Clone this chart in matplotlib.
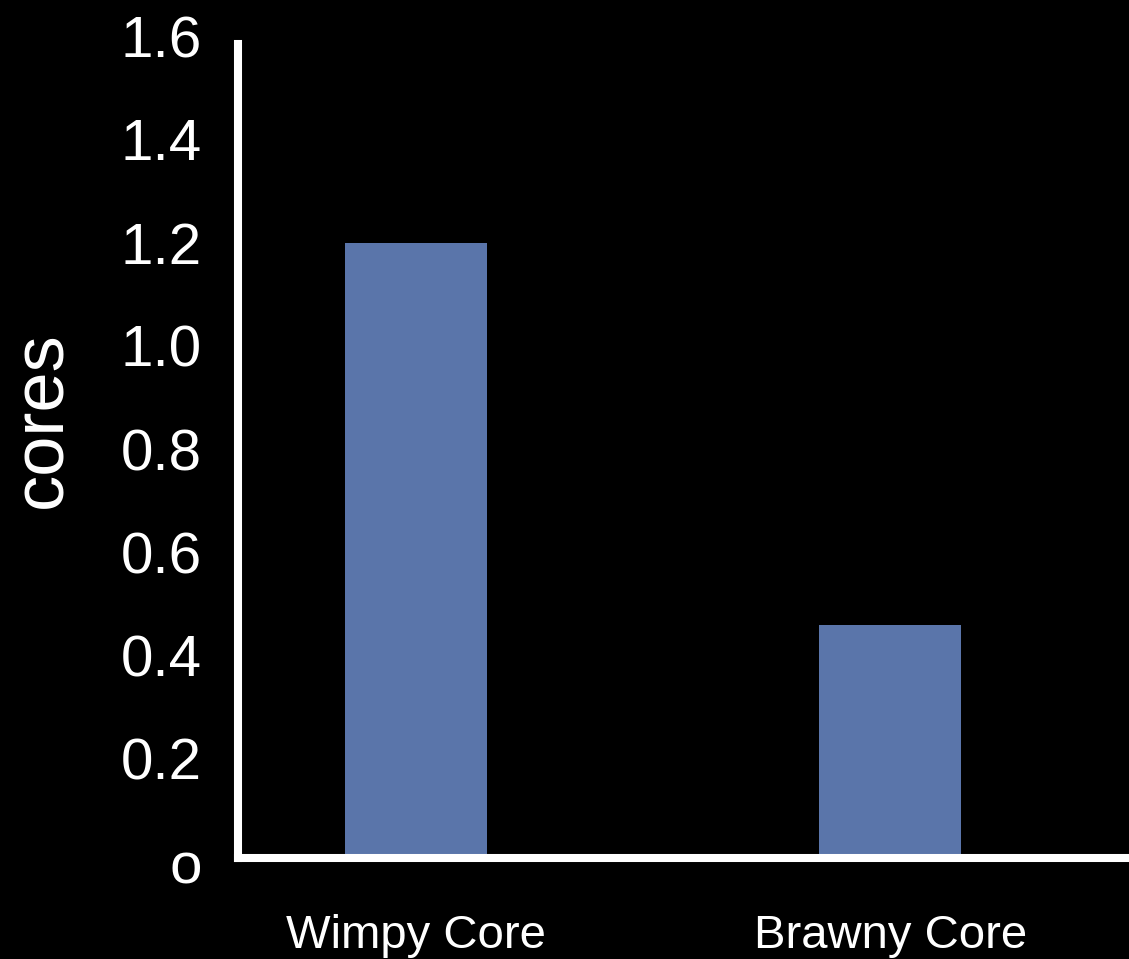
import matplotlib
matplotlib.use("Agg")
import matplotlib.pyplot as plt

# chart data
categories = ["Wimpy Core", "Brawny Core"]
values = [1.2, 0.46]
y_ticks = [0, 0.2, 0.4, 0.6, 0.8, 1.0, 1.2, 1.4, 1.6]
y_tick_labels = ["o", "0.2", "0.4", "0.6", "0.8", "1.0", "1.2", "1.4", "1.6"]

plt.rcParams["font.family"] = ["Liberation Sans", "DejaVu Sans"]

fig = plt.figure(figsize=(11.29, 9.59), dpi=100, facecolor="black")
W, H = 1129, 959
ax = fig.add_axes([238 / W, 1 - 862 / H, (W - 238) / W, (862 - 36) / H])
ax.set_facecolor("black")

x = list(range(len(categories)))
ax.bar(x, values, width=0.3, color="#5a75aa", zorder=2)

ax.set_xlim(-0.3755, 1.504)
ax.set_ylim(0, 1.6)

for side in ["top", "right"]:
    ax.spines[side].set_visible(False)
for side in ["left", "bottom"]:
    ax.spines[side].set_color("white")
    ax.spines[side].set_linewidth(5.8)
    ax.spines[side].set_capstyle("projecting")
    ax.spines[side].set_zorder(3)
# axis lines sit a little inside the label scale
ax.spines["bottom"].set_position(("outward", -2.9))
ax.spines["left"].set_bounds(0.008, 1.585)

ax.set_yticks(y_ticks)
ax.set_yticklabels(y_tick_labels)
ax.set_xticks(x)
ax.set_xticklabels(categories)

ax.tick_params(axis="y", length=0, pad=26, labelsize=42, labelcolor="white")
ax.tick_params(axis="x", length=0, pad=40, labelsize=34, labelcolor="white")

fig.text(43 / W, 1 - 420 / H, "cores", rotation=90, ha="center", va="center",
         fontsize=52, color="white")

fig.savefig("out.png", dpi=100, facecolor="black")
